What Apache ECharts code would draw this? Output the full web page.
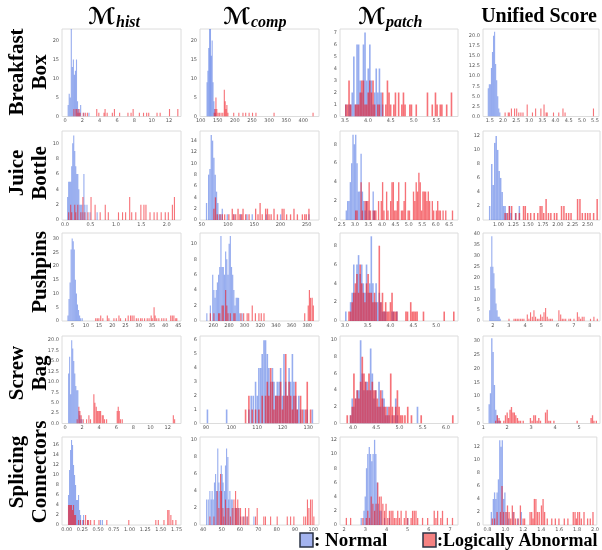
<!DOCTYPE html>
<html>
<head>
<meta charset="utf-8">
<script src="https://cdn.jsdelivr.net/npm/echarts@6/dist/echarts.min.js"></script>
<style>
  html, body { margin: 0; padding: 0; background: #fff; }
  #main { width: 602px; height: 550px; }
</style>
</head>
<body>
<div id="main"></div>
<script>
// histogram bins: [bin start, count]
// Breakfast Box
const bbHistNormal = [[0.30,3],[0.42,6],[0.54,5],[0.66,23],[0.78,13],[0.90,15],[1.02,11],[1.14,12],[1.26,15],[1.38,4],[1.50,2],[1.62,1],[1.74,3],[2.10,1],[2.70,1]];
const bbHistAbnormal = [[0.96,2],[1.20,2],[1.32,2],[1.44,1],[1.56,2],[1.68,1],[2.04,1],[2.28,1],[2.52,1],[3.60,2],[3.84,1],[4.44,1],[4.56,2],[4.80,1],[5.40,1],[5.64,2],[6.24,1],[7.20,1],[7.56,1],[7.80,2],[8.52,1],[9.00,1],[9.36,1],[9.60,1],[10.56,1],[10.92,1],[12.00,2],[12.96,2]];
const bbCompNormal = [[117,9],[119.5,12],[122,18],[124.5,23],[127,23],[129.5,16],[132,20],[134.5,9],[137,4],[139.5,2],[142,1]];
const bbCompAbnormal = [[138,1],[140.5,2],[143,5],[145.5,2],[149,1],[153,1],[158,1],[163,1],[167.5,7],[170,4],[172.5,2],[175,3],[178,1],[195,1],[210,1],[222,1],[230,1],[240,1],[250,1],[260,1],[313,1],[427,1]];
const bbPatchNormal = [[3.5,1],[3.57,1],[3.605,1],[3.64,2],[3.675,5],[3.71,1],[3.745,6],[3.78,6],[3.815,3],[3.85,2],[3.885,6],[3.92,7],[3.955,3],[3.99,4],[4.025,6],[4.06,3],[4.095,1],[4.13,2],[4.165,4],[4.2,2],[4.235,4],[4.27,2],[4.305,1]];
const bbPatchAbnormal = [[3.5,1],[3.535,1],[3.57,3],[3.605,1],[3.71,1],[3.745,1],[3.78,1],[3.815,2],[3.85,3],[3.885,3],[3.92,1],[3.955,1],[3.99,2],[4.025,3],[4.06,2],[4.095,3],[4.13,1],[4.2,1],[4.235,1],[4.305,2],[4.375,1],[4.41,3],[4.445,2],[4.48,1],[4.55,1],[4.585,2],[4.655,2],[4.725,1],[4.76,2],[4.795,1],[4.9,1],[4.935,1],[5.04,1],[5.285,2],[5.39,1],[5.46,2],[5.495,1],[5.565,1],[5.6,1],[5.705,1],[5.81,2]];
const bbUniNormal = [[1.42,7],[1.46,8],[1.50,8],[1.54,12],[1.58,16],[1.62,20],[1.66,21],[1.70,13],[1.74,9],[1.78,5],[1.82,2],[1.86,1]];
const bbUniAbnormal = [[2.06,1],[2.18,1],[2.22,1],[2.30,2],[2.42,2],[2.50,2],[2.58,1],[2.66,1],[2.74,1],[2.90,3],[3.10,1],[3.22,2],[3.42,2],[3.54,3],[3.62,1],[3.66,1],[3.90,1],[4.10,1],[4.26,2],[4.34,1],[5.42,2]];
// Juice Bottle
const jbHistNormal = [[0.04,3],[0.06,5],[0.08,5],[0.10,5],[0.12,7],[0.14,10],[0.16,11],[0.18,9],[0.20,7],[0.22,6],[0.24,6],[0.26,4],[0.28,2],[0.30,2],[0.32,2],[0.34,1],[0.36,6],[0.38,2],[0.42,2],[0.48,1],[0.62,1]];
const jbHistAbnormal = [[0.06,1],[0.10,2],[0.12,1],[0.18,2],[0.20,1],[0.24,2],[0.30,1],[0.34,3],[0.38,1],[0.44,1],[0.50,3],[0.58,2],[0.68,1],[0.78,2],[0.84,1],[1.04,1],[1.12,1],[1.18,1],[1.26,3],[1.30,1],[1.38,1],[1.48,2],[1.54,2],[1.58,2],[1.66,1],[1.74,1],[1.80,1],[1.88,1],[1.96,1],[2.02,1],[2.10,2],[2.14,3]];
const jbCompNormal = [[58,3],[62,8],[64.5,9],[67,15],[69.5,14],[72,11],[74.5,8],[77,5],[79.5,3],[82,1],[85,1],[88,2],[97.5,1],[110,1],[123,1],[135,1],[145,1],[172,1],[199,1],[253,1]];
const jbCompAbnormal = [[72,2],[75,4],[78.5,1],[83.5,1],[88,1],[92.5,1],[100.5,1],[107,2],[110,1],[113.5,1],[118,2],[121.5,1],[125,1],[127.5,2],[132.5,1],[139,1],[151.5,2],[156,1],[160,3],[164,1],[170.5,2],[174,2],[177,1],[181,1],[186.5,2],[193,1],[202,2],[205.5,2],[210.5,1],[218,1],[224.5,2],[231,1],[240.5,1],[245,1],[248,1],[253,2]];
const jbPatchNormal = [[2.65,1],[2.70,2],[2.75,2],[2.80,4],[2.85,6],[2.90,9],[2.95,8],[3.00,9],[3.05,6],[3.10,3],[3.15,3],[3.20,7],[3.25,3],[3.30,2],[3.35,1],[3.40,2],[3.50,1],[3.65,3],[3.70,1]];
const jbPatchAbnormal = [[3.0,1],[3.05,1],[3.2,4],[3.25,1],[3.35,2],[3.4,2],[3.45,2],[3.5,4],[3.55,1],[3.65,1],[3.7,1],[3.75,1],[3.85,2],[3.95,2],[4.0,4],[4.05,1],[4.15,3],[4.2,1],[4.3,2],[4.35,4],[4.4,4],[4.45,1],[4.5,1],[4.55,2],[4.6,4],[4.7,1],[4.75,1],[4.8,2],[4.85,4],[4.95,1],[5.0,1],[5.15,3],[5.2,2],[5.25,4],[5.3,3],[5.35,5],[5.4,4],[5.45,1],[5.5,3],[5.55,3],[5.6,3],[5.65,2],[5.7,3],[5.75,2],[5.85,2],[5.9,1],[6.0,1],[6.05,2],[6.1,1],[6.15,1],[6.25,1],[6.35,1],[6.6,1]];
const jbUniNormal = [[0.84,2],[0.875,8],[0.9,5],[0.925,11],[0.95,12],[0.975,10],[1.0,7],[1.025,6],[1.05,4],[1.075,2],[1.1,2],[1.125,1],[1.175,2],[1.2,1],[1.275,1],[1.34,2]];
const jbUniAbnormal = [[1.1,1],[1.14,1],[1.17,2],[1.21,2],[1.28,1],[1.34,1],[1.41,2],[1.44,2],[1.48,1],[1.53,1],[1.59,1],[1.65,1],[1.69,2],[1.72,2],[1.75,1],[1.79,3],[1.83,1],[1.87,1],[1.93,1],[1.97,1],[2.05,2],[2.09,2],[2.13,1],[2.17,1],[2.21,1],[2.32,3],[2.36,3],[2.40,1],[2.45,1],[2.49,1],[2.53,1],[2.59,1],[2.65,3]];
// Pushpins
const ppHistNormal = [[3.0,2],[3.4,8],[3.8,14],[4.2,26],[4.6,30],[5.0,29],[5.4,26],[5.8,15],[6.2,10],[6.6,6],[7.0,4],[7.4,2],[7.8,1],[8.4,1]];
const ppHistAbnormal = [[13.5,1],[14.1,1],[14.7,1],[15.4,2],[16.2,1],[17.9,2],[18.5,1],[20.4,1],[21.3,1],[22.3,2],[22.9,1],[24.8,1],[25.8,2],[26.7,2],[27.3,2],[28.0,2],[28.9,1],[29.6,1],[30.5,1],[31.1,1],[32.0,1],[33.0,1],[33.7,1],[34.5,2],[34.9,1],[35.6,5],[36.0,2],[36.6,1],[37.4,1],[38.5,1],[39.3,1],[40.2,1],[41.9,2],[42.5,2],[43.1,2],[43.8,1],[44.2,1]];
const ppCompNormal = [[251,1],[255.5,2],[258.5,6],[260,4],[261.5,3],[263,4],[264.5,5],[266,6],[267.5,7],[269,11],[270.5,7],[272,7],[273.5,6],[275,9],[276.5,8],[278,6],[279.5,10],[281,11],[282.5,7],[284,6],[285.5,4],[287,2],[288.5,3],[290,3],[291.5,3],[293,1],[296,1]];
const ppCompAbnormal = [[255.5,1],[260,1],[266,1],[267.5,1],[270.5,2],[272,2],[275,4],[276.5,2],[278,1],[281,1],[285.5,1],[287,1],[294.5,1],[298,1],[302.5,1],[304.5,1],[309,2],[313,1],[317.5,1],[320.5,1],[324,1],[376,1],[380.5,2],[382,4],[383.5,3],[385.5,3],[387,2]];
const ppPatchNormal = [[3.0,1],[3.105,2],[3.14,3],[3.175,6],[3.21,3],[3.245,6],[3.28,7],[3.315,5],[3.35,6],[3.385,4],[3.42,3],[3.455,6],[3.49,3],[3.525,4],[3.56,9],[3.595,4],[3.63,2],[3.665,4],[3.7,2],[3.735,3],[3.77,2],[3.805,1],[3.84,1],[3.875,1],[4.015,1],[4.05,1],[4.12,1]];
const ppPatchAbnormal = [[3.07,1],[3.105,1],[3.14,2],[3.175,3],[3.21,4],[3.245,5],[3.28,3],[3.315,6],[3.35,4],[3.385,3],[3.42,2],[3.455,4],[3.49,5],[3.525,3],[3.56,3],[3.595,2],[3.63,3],[3.665,2],[3.735,8],[3.77,2],[3.805,3],[3.84,1],[3.875,2],[3.91,1],[3.945,1],[3.98,2],[4.015,3],[4.05,1],[4.085,1],[4.12,1],[4.32,1],[4.355,1],[4.425,2],[4.46,1],[4.495,1],[4.53,1],[4.565,1],[4.705,1],[5.16,1],[5.37,1]];
const ppUniNormal = [[1.78,5],[1.845,25],[1.91,39],[1.975,25],[2.04,22],[2.105,15],[2.17,8],[2.235,5],[2.3,2],[2.365,2],[2.43,1]];
const ppUniAbnormal = [[2.97,1],[3.28,1],[3.38,1],[3.48,1],[3.58,1],[3.69,1],[3.79,1],[3.89,1],[4.10,3],[4.20,1],[4.30,4],[4.41,2],[4.51,5],[4.61,2],[4.72,1],[4.82,1],[4.92,3],[5.02,2],[5.13,4],[5.23,6],[5.33,2],[5.44,1],[5.54,1],[5.64,1],[6.05,5],[6.16,3],[6.26,1],[6.36,1],[6.47,1],[6.67,1],[6.77,1],[6.98,1],[7.19,4],[7.29,2],[7.39,1],[7.49,2],[7.60,2],[8.00,1],[8.21,2],[8.42,1]];
// Screw Bag
const sbHistNormal = [[0.36,12],[0.48,16],[0.60,7],[0.72,20],[0.84,18],[0.96,15],[1.08,12],[1.20,9],[1.32,8],[1.44,8],[1.56,3],[1.68,2],[1.80,1],[1.92,1]];
const sbHistAbnormal = [[1.36,1],[1.56,4],[1.68,3],[1.83,2],[2.07,1],[2.46,1],[2.73,2],[2.92,1],[3.31,7],[3.43,5],[3.59,4],[3.71,3],[3.83,3],[3.98,3],[4.10,3],[4.29,2],[4.41,2],[4.56,1],[4.80,1],[6.04,3],[6.16,4],[6.28,3],[6.43,1],[6.63,1],[12.60,2],[12.75,1]];
const sbCompNormal = [[90.3,1],[97.8,1],[106.5,1],[107.4,2],[108.2,2],[109.1,3],[109.8,2],[110.4,4],[111.1,4],[111.7,5],[112.4,6],[113,6],[113.7,5],[114.3,4],[115,3],[115.7,4],[116.3,3],[117,2],[117.6,3],[118.3,3],[118.9,4],[119.6,2],[120.2,5],[120.9,3],[121.5,2],[122.2,4],[122.8,3],[123.5,5],[124.1,3],[124.8,2],[125.4,1],[126,2],[126.7,1],[128,1],[129.3,1],[131.3,1]];
const sbCompAbnormal = [[105.2,1],[106.5,2],[107.8,1],[109.1,1],[110.4,1],[111.7,2],[113,2],[113.7,3],[114.3,2],[115,4],[115.7,3],[116.3,1],[117,2],[117.6,2],[118.3,2],[118.9,3],[119.6,1],[120.2,2],[120.9,5],[121.5,2],[122.2,3],[122.8,2],[123.5,1],[124.1,2],[124.8,3],[125.4,1],[126.7,2],[127.4,1],[128.7,1],[129.3,3],[130.6,1]];
const sbPatchNormal = [[3.93,1],[3.966,3],[4.002,2],[4.038,3],[4.074,4],[4.11,4],[4.146,10],[4.182,6],[4.218,4],[4.254,5],[4.29,5],[4.326,4],[4.362,9],[4.398,6],[4.434,3],[4.47,4],[4.506,2],[4.542,5],[4.578,2],[4.614,4],[4.65,3],[4.686,1],[4.722,2],[4.758,1],[4.83,1],[4.902,3],[4.938,1],[5.37,2]];
const sbPatchAbnormal = [[3.858,1],[3.93,1],[3.966,2],[4.002,6],[4.038,3],[4.074,4],[4.11,3],[4.146,5],[4.182,8],[4.218,6],[4.254,5],[4.29,4],[4.326,6],[4.362,4],[4.398,5],[4.434,4],[4.47,4],[4.506,3],[4.542,2],[4.578,4],[4.614,3],[4.65,2],[4.686,2],[4.722,1],[4.758,2],[4.794,6],[4.83,2],[4.866,1],[4.902,2],[4.938,4],[4.974,2],[5.01,1],[5.046,1],[5.10,1],[5.16,2],[5.24,1],[5.45,1],[6.13,1]];
const sbUniNormal = [[1.22,7],[1.275,11],[1.33,31],[1.385,26],[1.44,14],[1.495,5],[1.55,3],[1.605,1],[1.66,1]];
const sbUniAbnormal = [[1.49,1],[1.56,3],[1.63,2],[1.69,1],[1.83,1],[1.90,3],[1.97,4],[2.03,2],[2.09,5],[2.15,6],[2.21,4],[2.27,4],[2.33,3],[2.40,2],[2.46,1],[2.53,1],[2.64,1],[2.94,2],[3.01,1],[3.08,3],[3.15,3],[3.22,1],[3.29,2],[3.36,1],[3.57,4],[3.64,5],[3.71,1],[3.78,1],[3.92,1],[4.89,1],[5.47,2],[5.53,3],[5.59,1],[5.69,1]];
// Splicing Connectors
const scHistNormal = [[0.02,6],[0.036,11],[0.052,15],[0.068,17],[0.084,16],[0.1,12],[0.116,10],[0.132,8],[0.148,5],[0.164,5],[0.18,6],[0.196,3],[0.212,2],[0.244,1],[0.26,2],[0.324,1],[0.53,1],[0.56,1]];
const scHistAbnormal = [[0.02,4],[0.036,4],[0.052,4],[0.068,4],[0.084,3],[0.1,4],[0.116,2],[0.132,2],[0.18,1],[0.212,1],[0.26,1],[0.292,2],[0.324,1],[0.34,1],[0.372,1],[0.43,1],[0.505,1],[0.63,1],[0.98,1],[1.41,1],[1.45,1],[1.54,1],[1.6,3],[1.62,3],[1.65,2],[1.68,1],[1.73,1]];
const scCompNormal = [[41.5,3],[42.4,3],[43.3,4],[44,3],[44.5,4],[45.1,3],[45.8,5],[46.4,6],[46.9,4],[47.6,9],[48.2,5],[48.7,4],[49.5,7],[50,6],[50.5,5],[51.3,4],[51.8,7],[52.4,9],[53.1,8],[53.6,3],[54.2,4],[54.9,3],[55.5,3],[56.4,2],[57.3,2],[58.2,2],[59.1,2],[60,1],[61.8,1],[63.6,1],[67.3,1]];
const scCompAbnormal = [[43.3,1],[45.5,1],[47.3,4],[48.2,2],[49.1,6],[49.6,4],[50.4,2],[50.9,1],[51.8,3],[52.7,2],[53.6,2],[54.5,1],[55.5,2],[56.4,3],[57.3,4],[57.8,2],[58.5,3],[59.1,2],[60,2],[60.9,1],[61.8,1],[62.7,2],[63.6,1],[64.5,2],[68.2,1],[69.1,2],[72.7,1],[73.6,1],[76.4,1],[80,1],[85.5,1],[87.3,1],[89.1,1],[94.5,1],[95.5,1],[96.5,3],[97.3,2],[98.2,3],[99.1,3],[100,1]];
const scPatchNormal = [[2.78,1],[2.91,2],[2.97,4],[3.03,8],[3.09,10],[3.16,11],[3.22,10],[3.28,9],[3.34,10],[3.41,12],[3.47,10],[3.53,6],[3.59,3],[3.66,2],[3.72,2],[3.88,1],[4.11,1],[4.97,1]];
const scPatchAbnormal = [[2.08,1],[2.28,1],[2.86,1],[3.02,1],[3.09,2],[3.17,1],[3.25,4],[3.33,3],[3.41,2],[3.48,3],[3.56,6],[3.64,4],[3.72,4],[3.80,3],[3.88,2],[3.95,3],[4.03,1],[4.11,2],[4.19,2],[4.27,2],[4.34,1],[4.42,1],[4.50,2],[4.58,1],[4.66,2],[4.81,1],[4.89,2],[4.97,1],[5.13,1],[5.20,2],[5.28,2],[5.36,2],[5.44,1],[5.67,1],[5.91,1],[6.22,2],[6.30,1],[6.38,2],[6.53,1],[6.61,2],[6.84,1],[7.08,1]];
const scUniNormal = [[0.836,2],[0.858,4],[0.872,5],[0.886,4],[0.9,5],[0.915,7],[0.93,13],[0.944,12],[0.958,13],[0.973,4],[0.987,5],[1.01,2],[1.03,1],[1.08,2],[1.13,1],[1.17,2]];
const scUniAbnormal = [[0.847,1],[0.872,1],[0.9,2],[0.937,2],[0.955,6],[0.973,2],[0.998,2],[1.016,3],[1.034,2],[1.052,1],[1.07,3],[1.088,2],[1.106,1],[1.135,1],[1.16,3],[1.19,1],[1.207,1],[1.268,2],[1.286,2],[1.301,1],[1.316,4],[1.333,4],[1.35,2],[1.37,2],[1.395,3],[1.413,4],[1.43,2],[1.46,1],[1.51,1],[1.55,1],[1.59,1],[1.65,1],[1.69,1],[1.75,2],[1.77,2],[1.785,1],[1.80,2],[1.82,2],[1.84,1],[1.87,2],[1.91,1],[1.94,1],[1.97,2]];

// one entry per panel, row by row
const normalSets = [bbHistNormal, bbCompNormal, bbPatchNormal, bbUniNormal,
  jbHistNormal, jbCompNormal, jbPatchNormal, jbUniNormal,
  ppHistNormal, ppCompNormal, ppPatchNormal, ppUniNormal,
  sbHistNormal, sbCompNormal, sbPatchNormal, sbUniNormal,
  scHistNormal, scCompNormal, scPatchNormal, scUniNormal];
const abnormalSets = [bbHistAbnormal, bbCompAbnormal, bbPatchAbnormal, bbUniAbnormal,
  jbHistAbnormal, jbCompAbnormal, jbPatchAbnormal, jbUniAbnormal,
  ppHistAbnormal, ppCompAbnormal, ppPatchAbnormal, ppUniAbnormal,
  sbHistAbnormal, sbCompAbnormal, sbPatchAbnormal, sbUniAbnormal,
  scHistAbnormal, scCompAbnormal, scPatchAbnormal, scUniAbnormal];
const binWidths = [0.12, 2.5, 0.035, 0.04,
  0.02, 2.5, 0.05, 0.025,
  0.4, 1.5, 0.035, 0.065,
  0.12, 0.62, 0.036, 0.055,
  0.016, 0.5, 0.06, 0.0145];
const xRanges = [[-0.35,13.39],[98,446],[3.39,5.97],[1.24,5.65],
  [-0.06,2.28],[46.8,273.4],[2.44,6.83],[0.74,2.71],
  [0.95,46],[243,395],[2.89,5.48],[1.4,8.62],
  [-0.35,13.56],[87.7,134.2],[3.72,6.26],[0.99,5.87],
  [-0.075,1.82],[38.2,103.1],[1.81,7.37],[0.75,2.02]];
const yMaxes = [23, 23, 7.3, 21.7,
  11.6, 15.7, 9.4, 12.7,
  32, 11.4, 9.35, 40.5,
  21, 6.3, 10.5, 31.8,
  17.6, 10.35, 12.4, 13.5];
const xTickLabels = [
  ['0','2','4','6','8','10','12'], ['100','150','200','250','300','350','400'], ['3.5','4.0','4.5','5.0','5.5'], ['1.5','2.0','2.5','3.0','3.5','4.0','4.5','5.0','5.5'],
  ['0.0','0.5','1.0','1.5','2.0'], ['50','100','150','200','250'], ['2.5','3.0','3.5','4.0','4.5','5.0','5.5','6.0','6.5'], ['1.00','1.25','1.50','1.75','2.00','2.25','2.50'],
  ['5','10','15','20','25','30','35','40','45'], ['260','280','300','320','340','360','380'], ['3.0','3.5','4.0','4.5','5.0'], ['2','3','4','5','6','7','8'],
  ['0','2','4','6','8','10','12'], ['90','100','110','120','130'], ['4.0','4.5','5.0','5.5','6.0'], ['1','2','3','4','5'],
  ['0.00','0.25','0.50','0.75','1.00','1.25','1.50','1.75'], ['40','50','60','70','80','90','100'], ['2','3','4','5','6','7'], ['0.8','1.0','1.2','1.4','1.6','1.8','2.0']];
const yTickLabels = [
  ['0','5','10','15','20'], ['0','5','10','15','20'], ['0','1','2','3','4','5','6','7'], ['0.0','2.5','5.0','7.5','10.0','12.5','15.0','17.5','20.0'],
  ['0','2','4','6','8','10'], ['0','2','4','6','8','10','12','14'], ['0','2','4','6','8'], ['0','2','4','6','8','10','12'],
  ['0','5','10','15','20','25','30'], ['0','2','4','6','8','10'], ['0','2','4','6','8'], ['0','5','10','15','20','25','30','35','40'],
  ['0.0','2.5','5.0','7.5','10.0','12.5','15.0','17.5','20.0'], ['0','1','2','3','4','5','6'], ['0','2','4','6','8','10'], ['0','5','10','15','20','25','30'],
  ['0','2','4','6','8','10','12','14','16'], ['0','2','4','6','8','10'], ['0','2','4','6','8','10','12'], ['0','2','4','6','8','10','12']];

const rowLabels = [['Breakfast','Box'], ['Juice','Bottle'], ['Pushpins'], ['Screw','Bag'], ['Splicing','Connectors']];
const colSubscripts = ['hist', 'comp', 'patch'];
const lastColTitle = 'Unified Score';
const legendNames = [': Normal', ':Logically Abnormal'];

// layout
const colLeft = [62, 200, 340, 483];
const colWidth = [119, 119, 118, 117];
const rowTop = [29, 131, 233, 336, 437];
const rowHeight = [87.5, 89, 88, 87.5, 88];
const blue = 'rgba(65,105,225,0.55)';
const red = 'rgba(240,20,30,0.6)';
const serif = '"Liberation Serif", "DejaVu Serif", serif';

function labelFormatter(labels) {
  return function (v) {
    for (const s of labels) {
      if (Math.abs(parseFloat(s) - v) < 1e-9) return s;
    }
    return '';
  };
}

function histRender(w, color) {
  return function (params, api) {
    const x = api.value(0), y = api.value(1);
    const p0 = api.coord([x, 0]);
    const p1 = api.coord([x + w, y]);
    return {
      type: 'rect',
      shape: { x: p0[0], y: p1[1], width: Math.max(p1[0] - p0[0], 1.1), height: p0[1] - p1[1] },
      style: { fill: color }
    };
  };
}

const grids = [], xAxes = [], yAxes = [], series = [];
for (let i = 0; i < 20; i++) {
  const r = Math.floor(i / 4), c = i % 4;
  grids.push({
    left: colLeft[c], top: rowTop[r], width: colWidth[c], height: rowHeight[r],
    show: true, borderColor: '#dcdcdc', borderWidth: 1, backgroundColor: '#fff'
  });
  xAxes.push({
    gridIndex: i, type: 'value', min: xRanges[i][0], max: xRanges[i][1],
    axisLine: { show: false }, axisTick: { show: false }, splitLine: { show: false },
    axisLabel: {
      customValues: xTickLabels[i].map(parseFloat),
      formatter: labelFormatter(xTickLabels[i]),
      fontSize: 5, color: '#555', margin: 2, fontFamily: 'DejaVu Sans'
    }
  });
  yAxes.push({
    gridIndex: i, type: 'value', min: 0, max: yMaxes[i],
    axisLine: { show: false }, axisTick: { show: false }, splitLine: { show: false },
    axisLabel: {
      customValues: yTickLabels[i].map(parseFloat),
      formatter: labelFormatter(yTickLabels[i]),
      fontSize: 5, color: '#555', margin: 3, fontFamily: 'DejaVu Sans'
    }
  });
  series.push({
    type: 'custom', name: 'Normal', xAxisIndex: i, yAxisIndex: i, clip: true, silent: true,
    encode: { x: 0, y: 1 }, data: normalSets[i], renderItem: histRender(binWidths[i], blue)
  });
  series.push({
    type: 'custom', name: 'Logically Abnormal', xAxisIndex: i, yAxisIndex: i, clip: true, silent: true,
    encode: { x: 0, y: 1 }, data: abnormalSets[i], renderItem: histRender(binWidths[i], red)
  });
}

const graphics = [];
// column titles
const subStart = [115, 250, 385];
colSubscripts.forEach(function (s, c) {
  graphics.push({ type: 'text', x: subStart[c], y: 18,
    style: { text: '\u2133', fontSize: 23, fontWeight: 'bold', fontFamily: '"DejaVu Serif", "DejaVu Sans", serif',
      fill: '#000', textAlign: 'right', textVerticalAlign: 'middle' } });
  graphics.push({ type: 'text', x: subStart[c] + 1, y: 23,
    style: { text: s, fontSize: 16, fontWeight: 'bold', fontStyle: 'italic', fontFamily: serif,
      fill: '#000', textAlign: 'left', textVerticalAlign: 'middle' } });
});
graphics.push({ type: 'text', x: 539, y: 17,
  style: { text: lastColTitle, fontSize: 20, fontWeight: 'bold', fontFamily: serif,
    fill: '#000', textAlign: 'center', textVerticalAlign: 'middle' } });
// row labels (rotated)
const rowCenters = [72, 173, 272, 373, 472];
rowLabels.forEach(function (lines, r) {
  const xs = lines.length === 2 ? [18, 41] : [41];
  lines.forEach(function (t, k) {
    graphics.push({ type: 'text', x: xs[k], y: rowCenters[r], rotation: Math.PI / 2,
      style: { text: t, fontSize: 21, fontWeight: 'bold', fontFamily: serif,
        fill: '#000', textAlign: 'center', textVerticalAlign: 'middle' } });
  });
});
// legend
graphics.push({ type: 'rect', shape: { x: 300, y: 533, width: 13, height: 14 },
  style: { fill: '#a3b3ef', stroke: '#2b3346', lineWidth: 1.5 } });
graphics.push({ type: 'text', x: 314, y: 541,
  style: { text: legendNames[0], fontSize: 19, fontWeight: 'bold', fontFamily: serif,
    fill: '#000', textAlign: 'left', textVerticalAlign: 'middle' } });
graphics.push({ type: 'rect', shape: { x: 423, y: 533, width: 13, height: 14 },
  style: { fill: '#f58282', stroke: '#2b3346', lineWidth: 1.5 } });
graphics.push({ type: 'text', x: 437, y: 541,
  style: { text: legendNames[1], fontSize: 18, fontWeight: 'bold', fontFamily: serif,
    fill: '#000', textAlign: 'left', textVerticalAlign: 'middle' } });

const chart = echarts.init(document.getElementById('main'), null, { renderer: 'canvas' });
chart.setOption({
  animation: false,
  backgroundColor: '#fff',
  grid: grids,
  xAxis: xAxes,
  yAxis: yAxes,
  series: series,
  graphic: graphics
});
</script>
</body>
</html>
